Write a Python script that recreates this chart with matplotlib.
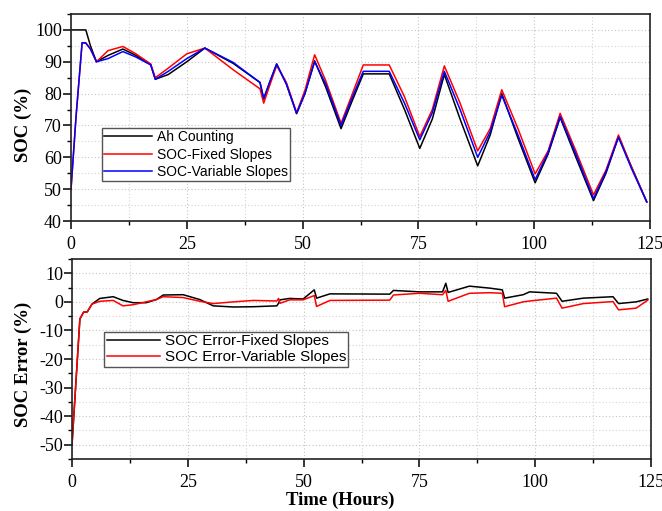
import numpy as np
import matplotlib.pyplot as plt
from matplotlib.ticker import MultipleLocator

plt.rcParams['axes.unicode_minus'] = False

# SOC estimates (top panel) at breakpoints
t_soc = [0, 1.1, 2.4, 3.2, 4.2, 5.5, 8, 11.2, 14, 17.2, 18.2, 21, 25, 28.9, 35,
         40.8, 41.6, 43, 44.4, 46.5, 48.7, 50.5, 52.6, 55, 58.3, 60.5, 63.1, 68.7,
         72, 75.3, 78, 80.6, 84, 87.8, 90.5, 93, 96.5, 100.2, 103, 105.6, 109,
         112.8, 115.5, 118.2, 121, 124.3]
soc_ah = [100, 100, 100, 100, 95, 90, 92, 94, 92, 89.2, 84.5, 86, 90, 94.3, 89.5,
          83.5, 78.3, 84, 89.3, 83, 73.7, 80, 90.3, 82, 69, 77, 86.2, 86.2,
          75, 62.8, 72, 86, 72, 57.3, 67, 80, 66, 52, 61, 72.5, 60,
          46.4, 55, 66.5, 57, 46]
soc_fixed = [50, 73, 96, 96, 94, 90, 93.5, 94.8, 92.5, 89.3, 85, 88, 92.5, 94.3, 87.5,
             81.5, 77, 83, 88.8, 83.5, 74, 81, 92.2, 84, 70.7, 79, 89, 89,
             79, 66.5, 75, 88.7, 77, 62, 69, 81.2, 69, 54.8, 62, 73.8, 62,
             48.2, 56, 67, 57, 46]
soc_var = [50, 73, 96, 95.8, 94, 90, 91, 93.2, 91.5, 89, 84.5, 87, 91, 94.3, 89.8,
           83.5, 78.5, 84, 89.3, 83, 73.8, 80, 90, 83, 70, 78, 87, 87,
           77, 65.5, 74, 87, 75, 60, 68, 79.5, 67, 53, 61.5, 72.8, 61,
           47, 55.5, 66.3, 56.5, 46]

# SOC error (bottom panel)
t_err = [0, 1.7, 2.5, 3.3, 4.3, 6, 8.9, 11, 13.2, 16, 18.2, 19.7, 24, 27.6, 30.5,
         34.9, 39.2, 44.2, 44.6, 44.9, 47, 49.9, 52.3, 52.8, 55.7, 68.6, 69.4, 75,
         80, 80.7, 81.2, 85.8, 90.2, 92.9, 93.4, 97.4, 98.8, 104.6, 105.8, 110.4,
         116.8, 118, 121.8, 124.3]
err_fixed = [-50, -6, -3.6, -3.5, -0.8, 1.2, 1.8, 0.5, -0.3, -0.3, 0.8, 2.4, 2.5, 0.8, -1.4,
             -1.8, -1.7, -1.4, -0.5, 0.7, 1.2, 1.0, 4.2, 1.3, 2.8, 2.7, 4.0, 3.5,
             3.5, 6.5, 3.3, 5.5, 4.8, 4.2, 1.3, 2.5, 3.5, 3.0, 0.2, 1.3,
             1.8, -0.6, 0, 1.0]
err_var = [-50, -6, -3.6, -3.5, -0.8, 0.2, 0.5, -1.4, -1.0, 0, 0.8, 1.8, 1.5, 0.2, -0.6,
           0, 0.5, 0.3, 1.2, -0.5, 0.7, 0.7, 2.2, -1.6, 0.5, 0.6, 2.4, 3.0,
           2.5, 4.0, 0.2, 3.0, 3.2, 3.0, -1.7, 0, 0.3, 1.3, -2.2, -0.6,
           0.1, -2.8, -2.2, 0.6]

x_ticks = [0, 25, 50, 75, 100, 125]

serif = ['Liberation Serif', 'DejaVu Serif']
sans = ['Liberation Sans', 'DejaVu Sans']

fig = plt.figure(figsize=(6.62, 5.11), dpi=100)
ax1 = fig.add_axes([71 / 662, 1 - 221 / 511, 579 / 662, 207 / 511])
ax2 = fig.add_axes([72 / 662, 1 - 459 / 511, 579 / 662, 200 / 511])


def style(ax, ylo, yhi, ymaj, ymin):
    ax.set_xlim(0, 125)
    ax.set_ylim(ylo, yhi)
    ax.xaxis.set_major_locator(MultipleLocator(25))
    ax.xaxis.set_minor_locator(MultipleLocator(12.5))
    ax.yaxis.set_major_locator(MultipleLocator(ymaj))
    ax.yaxis.set_minor_locator(MultipleLocator(ymin))
    ax.tick_params(which='major', direction='out', length=5.5, width=1.1,
                   top=False, right=False, labelsize=13)
    ax.tick_params(which='minor', direction='out', length=3, width=1.0,
                   top=False, right=False)
    ax.tick_params(axis='x', which='major', pad=5.5)
    ax.tick_params(axis='y', which='major', pad=1)
    for lab in ax.get_xticklabels() + ax.get_yticklabels():
        lab.set_family(serif)
    ax.grid(which='major', color='#c4c4c4', linestyle=(0, (1, 2)), linewidth=0.8)
    ax.grid(which='minor', color='#d4d4d4', linestyle=(0, (1, 2)), linewidth=0.8)
    ax.set_axisbelow(True)
    for s in ax.spines.values():
        s.set_linewidth(1.2)
        s.set_color('#222222')


# top panel
ax1.plot(t_soc, soc_ah, color='black', lw=1.1, label='Ah Counting')
ax1.plot(t_soc, soc_fixed, color='#ff0000', lw=1.1, label='SOC-Fixed Slopes')
ax1.plot(t_soc, soc_var, color='#0000ff', lw=1.1, label='SOC-Variable Slopes')
style(ax1, 40, 105, 10, 5)
ax1.set_xticks(x_ticks)
ax1.set_ylabel('SOC (%)', family=serif, fontsize=13.5, fontweight='bold')
ax1.yaxis.set_label_coords(-0.068, 0.464)
leg1 = ax1.legend(loc='upper left', bbox_to_anchor=(0.053, 0.448), borderaxespad=0,
                  prop={'family': sans, 'size': 10}, fancybox=False, framealpha=1,
                  edgecolor='#555555', handlelength=3.5, labelspacing=0.23,
                  handletextpad=0.3, borderpad=0.15)
leg1.get_frame().set_linewidth(1.0)

# bottom panel
ax2.plot(t_err, err_fixed, color='black', lw=1.1, label='SOC Error-Fixed Slopes')
ax2.plot(t_err, err_var, color='#ff0000', lw=1.1, label='SOC Error-Variable Slopes')
style(ax2, -55, 15, 10, 5)
ax2.set_xticks(x_ticks)
ax2.set_ylabel('SOC Error (%)', family=serif, fontsize=13.5, fontweight='bold')
ax2.yaxis.set_label_coords(-0.069, 0.475)
ax2.set_xlabel('Time (Hours)', family=serif, fontsize=13.5, fontweight='bold')
ax2.xaxis.set_label_coords(0.463, -0.165)
leg2 = ax2.legend(loc='upper left', bbox_to_anchor=(0.0558, 0.6365), borderaxespad=0,
                  prop={'family': sans, 'size': 11}, fancybox=False, framealpha=1,
                  edgecolor='#555555', handlelength=3.5, labelspacing=0.16,
                  handletextpad=0.3, borderpad=0.15)
leg2.get_frame().set_linewidth(1.0)

fig.savefig('out.png', dpi=100)
